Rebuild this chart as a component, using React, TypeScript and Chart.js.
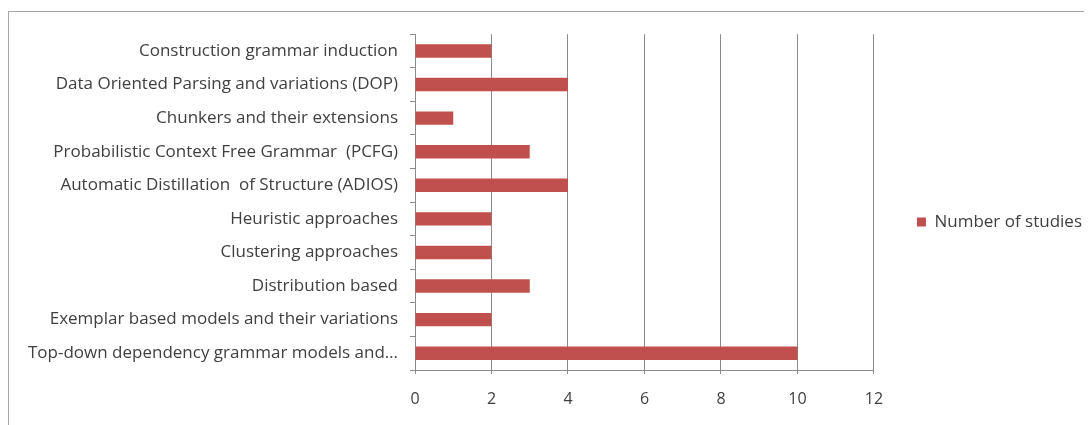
import React, { useEffect, useRef } from "react";
import { Chart, registerables } from "chart.js";

Chart.register(...registerables);

const categories = [
  "Construction grammar induction",
  "Data Oriented Parsing and variations (DOP)",
  "Chunkers and their extensions",
  "Probabilistic Context Free Grammar  (PCFG)",
  "Automatic Distillation  of Structure (ADIOS)",
  "Heuristic approaches",
  "Clustering approaches",
  "Distribution based",
  "Exemplar based models and their variations",
  "Top-down dependency grammar models and…",
];
const studies = [2, 4, 1, 3, 4, 2, 2, 3, 2, 10];
const seriesName = "Number of studies";
const xTicks = [0, 2, 4, 6, 8, 10, 12];

const FONT = "'Open Sans', sans-serif";
const TEXT = "#404040";
const GRID = "#8a8a8a";

export default function App() {
  const ref = useRef<HTMLCanvasElement | null>(null);
  useEffect(() => {
    if (!ref.current) return;
    const chart = new Chart(ref.current, {
      type: "bar",
      data: {
        labels: categories,
        datasets: [
          {
            label: seriesName,
            data: studies,
            backgroundColor: "#C0504D",
            borderWidth: 0,
            barPercentage: 0.8,
            categoryPercentage: 0.5,
          },
        ],
      },
      options: {
        indexAxis: "y",
        animation: false,
        responsive: false,
        layout: { padding: { top: 16, right: 0, left: 0, bottom: 0 } },
        plugins: {
          legend: {
            position: "right",
            fullSize: false,
            title: {
              display: true,
              text: " ",
              font: { family: FONT, size: 10 },
              padding: 14,
            },
            labels: {
              boxWidth: 9,
              boxHeight: 9,
              color: TEXT,
              font: { family: FONT, size: 17 },
              padding: 43,
            },
          },
          tooltip: { enabled: false },
        },
        scales: {
          x: {
            min: 0,
            max: 12,
            afterBuildTicks: (s: any) => {
              s.ticks = xTicks.map((v) => ({ value: v }));
            },
            afterFit: (s: any) => {
              s.height = 55;
            },
            grid: {
              color: GRID,
              tickColor: GRID,
              tickLength: 4,
              lineWidth: 1,
            },
            border: { color: GRID },
            ticks: {
              color: TEXT,
              padding: 16,
              font: { family: FONT, size: 16 },
            },
          },
          y: {
            afterFit: (s: any) => {
              s.width = 406;
            },
            grid: {
              drawOnChartArea: false,
              color: GRID,
              tickColor: GRID,
              tickLength: 5,
              offset: true,
            },
            border: { color: GRID },
            ticks: {
              color: TEXT,
              padding: 12,
              font: { family: FONT, size: 17 },
              autoSkip: false,
            },
          },
        },
      },
    });
    return () => chart.destroy();
  }, []);
  return (
    <div
      style={{
        marginTop: 3,
        width: 1084,
        height: 414,
        borderTop: "1px solid #a6a6a6",
        borderLeft: "1px solid #a6a6a6",
        boxSizing: "border-box",
      }}
    >
      <canvas ref={ref} width={1083} height={413} style={{ display: "block" }} />
    </div>
  );
}
